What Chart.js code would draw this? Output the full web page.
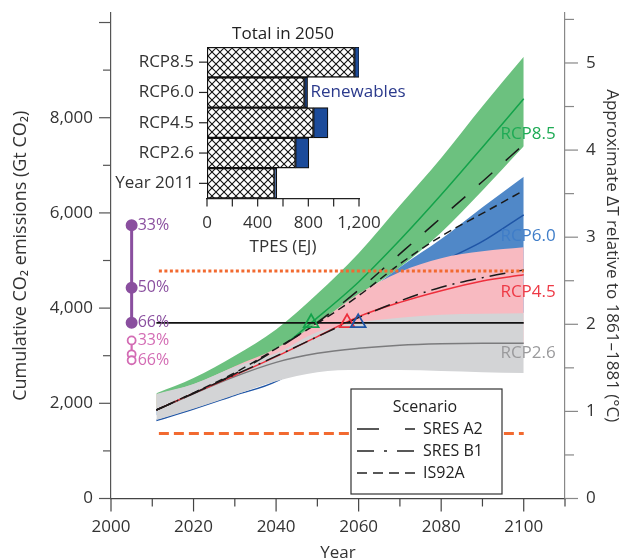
<!DOCTYPE html>
<html>
<head>
<meta charset="utf-8">
<script src="https://cdn.jsdelivr.net/npm/chart.js@4"></script>
<style>
  html, body { margin: 0; padding: 0; background: #fff; }
  #wrap { position: relative; width: 628px; height: 560px; overflow: hidden; }
  #main { position: absolute; left: 0; top: 0; }
  #inset { position: absolute; left: 100px; top: 20px; }
</style>
</head>
<body>
<div id="wrap">
  <canvas id="main" width="628" height="560"></canvas>
  <canvas id="inset" width="366" height="245"></canvas>
</div>
<script>
// cumulative CO2 emissions since 1870, Gt CO2
const years = [2011, 2020, 2030, 2040, 2050, 2060, 2070, 2080, 2090, 2100];

const rcp85Upper  = [2210, 2530, 3000, 3550, 4300, 5155, 6155, 7155, 8240, 9280];
const rcp85Median = [1860, 2220, 2650, 3100, 3800, 4550, 5430, 6380, 7380, 8400];
const rcp85Lower  = [1850, 2150, 2500, 2950, 3500, 4250, 4860, 5590, 6470, 7400];

const rcp60Upper  = [1900, 2200, 2550, 2950, 3450, 4200, 4860, 5450, 6120, 6760];
const rcp60Median = [1640, 1880, 2170, 2460, 3050, 3720, 4320, 4950, 5400, 5960];
const rcp60Lower  = [1750, 2000, 2300, 2600, 2850, 3050, 3300, 3500, 3700, 3900];

const rcp45Upper  = [2190, 2400, 2780, 3150, 3680, 4300, 4760, 5050, 5195, 5280];
const rcp45Median = [1860, 2210, 2590, 2980, 3400, 3820, 4120, 4365, 4570, 4700];
const rcp45Lower  = [1850, 2100, 2400, 2700, 2900, 3000, 3100, 3150, 3200, 3250];

const rcp26Upper  = [2198, 2406, 2770, 3050, 3500, 3700, 3800, 3860, 3880, 3890];
const rcp26Median = [1860, 2200, 2560, 2860, 3050, 3155, 3220, 3250, 3260, 3260];
const rcp26Lower  = [1650, 1885, 2175, 2465, 2655, 2700, 2700, 2680, 2655, 2635];

const sresA2 = [1860, 2210, 2620, 3130, 3700, 4380, 5140, 5900, 6660, 7440];
const sresB1 = [1860, 2210, 2600, 2990, 3400, 3800, 4150, 4440, 4640, 4800];
const is92a  = [1860, 2220, 2640, 3150, 3680, 4260, 4930, 5510, 5990, 6470];

// 2 degC threshold and the years each RCP median crosses it (8.5, 4.5, 6.0)
const twoDegree = 3690;
const crossYears = [2048.5, 2057.2, 2059.9];
const lineSpan = [2011, 2100];

const quotaHigh = 4780;   // dotted orange
const quotaLow = 1364;    // dashed orange
const quotaSpan = [2011.6, 2100];

// budget probabilities shown at 2005
const budgetYear = 2005;
const budgetAll = [5740, 4430, 3690];
const budgetAllPct = ['33%', '50%', '66%'];
const budgetCO2 = [3320, 3030, 2905];
const budgetCO2Pct = ['33%', '', '66%'];

const gtPerDegree = 1830;

// axis tick values
const yearTicks = [2000, 2020, 2040, 2060, 2080, 2100];
const gtTicks = [0, 2000, 4000, 6000, 8000];
const degTicks = [0, 1, 2, 3, 4, 5];
const tpesTicks = [0, 400, 800, 1200];

// inset: total primary energy supply in 2050, EJ
const insetCats = ['RCP8.5', 'RCP6.0', 'RCP4.5', 'RCP2.6', 'Year 2011'];
const insetOther = [1165, 770, 841, 699, 533];
const insetRenew = [38, 24, 114, 105, 18];

const FONT = "'Open Sans', 'DejaVu Sans', sans-serif";
const TXT = '#333';
Chart.defaults.font.family = FONT;
Chart.defaults.color = TXT;

const pts = (vals) => vals.map((v, i) => ({ x: years[i], y: v }));
const flat = (v, span) => span.map(x => ({ x, y: v }));
const withComma = v => String(v).replace(/\B(?=(\d{3})+(?!\d))/g, ',');

const band = (vals, color, order, fill) => ({
  data: pts(vals),
  borderColor: 'rgba(0,0,0,0)',
  borderWidth: 1,
  backgroundColor: color,
  fill: fill ? '+1' : false,
  order
});
const line = (data, color, order, extra) => Object.assign({
  data, borderColor: color, borderWidth: 1.5, fill: false, order
}, extra || {});

const GREEN = '#6cc17f', GREEN_L = '#13a24a';
const BLUE = '#5088c8', BLUE_L = '#1f55a6';
const PINK = '#f8bac1', RED_L = '#ee2f3c';
const GRAY = '#d3d4d6', GRAY_L = '#7b7b7d';
const ORANGE = '#f26a30';
const PURPLE = '#8a4f9f', MAGENTA = '#d36cb4';

// keep the plot box fixed: no extra room for overhanging end labels
const noPad = s => { s.paddingTop = 0; s.paddingBottom = 0; s.paddingLeft = 0; s.paddingRight = 0; };
const setTicks = list => s => { s.ticks = list.map(value => ({ value })); };

// tick marks drawn by hand so major and minor ticks can differ in length
const axisTicks = {
  id: 'axisTicks',
  afterDraw(chart) {
    const { ctx, chartArea: a, scales: { x, y, y2 } } = chart;
    ctx.save();
    ctx.lineWidth = 1.2;
    const seg = (x0, y0, x1, y1) => { ctx.beginPath(); ctx.moveTo(x0, y0); ctx.lineTo(x1, y1); ctx.stroke(); };
    ctx.strokeStyle = '#444';
    for (let v = 2000; v <= 2110; v += 10) {
      const p = x.getPixelForValue(v);
      seg(p, a.bottom, p, a.bottom + (v % 20 === 0 ? 13 : 8));
    }
    ctx.strokeStyle = '#555';
    for (let v = 0; v <= 10000; v += 1000) {
      const p = y.getPixelForValue(v);
      seg(a.left, p, a.left - (v % 2000 === 0 ? 12 : 8), p);
    }
    ctx.strokeStyle = '#888';
    for (let v = 0; v <= 5.5; v += 0.5) {
      const p = y2.getPixelForValue(v);
      seg(a.right, p, a.right + (v % 1 === 0 ? 13 : 9), p);
    }
    ctx.restore();
  }
};

// RCP names, probability labels and scenario key
const annotations = {
  id: 'annotations',
  afterDraw(chart) {
    const { ctx, chartArea: a, scales: { x, y } } = chart;
    ctx.save();
    ctx.textBaseline = 'middle';

    ctx.font = '17px ' + FONT;
    ctx.textAlign = 'right';
    const rx = x.getPixelForValue(2100) + 32;
    [['RCP8.5', 7650, '#1eab55'], ['RCP6.0', 5510, '#3f7dc8'],
     ['RCP4.5', 4340, '#ee3a46'], ['RCP2.6', 3050, '#9a9a9c']].forEach(([t, v, c]) => {
      ctx.fillStyle = c;
      ctx.fillText(t, rx, y.getPixelForValue(v));
    });

    ctx.font = '16px ' + FONT;
    ctx.textAlign = 'left';
    const bx = x.getPixelForValue(budgetYear) + 6;
    ctx.fillStyle = PURPLE;
    budgetAll.forEach((v, i) => ctx.fillText(budgetAllPct[i], bx, y.getPixelForValue(v)));
    ctx.fillStyle = MAGENTA;
    budgetCO2.forEach((v, i) => { if (budgetCO2Pct[i]) ctx.fillText(budgetCO2Pct[i], bx, y.getPixelForValue(v)); });

    // scenario key
    const L = 351, R = a.right - 63, T = 389, B = a.bottom - 4.5;
    ctx.fillStyle = '#fff';
    ctx.fillRect(L, T, R - L, B - T);
    ctx.strokeStyle = '#333';
    ctx.lineWidth = 1.2;
    ctx.strokeRect(L, T, R - L, B - T);
    ctx.fillStyle = '#222';
    ctx.textAlign = 'center';
    ctx.fillText('Scenario', 425, 407);
    ctx.textAlign = 'left';
    const rows = [['SRES A2', [22, 26], 429], ['SRES B1', [17, 10, 3, 10], 451], ['IS92A', [10, 6], 473]];
    ctx.lineWidth = 1.5;
    ctx.strokeStyle = '#222';
    rows.forEach(([t, dash, ry]) => {
      ctx.setLineDash(dash);
      ctx.beginPath(); ctx.moveTo(357, ry); ctx.lineTo(415, ry); ctx.stroke();
      ctx.fillText(t, 423, ry);
    });
    ctx.restore();
  }
};

new Chart(document.getElementById('main'), {
  type: 'line',
  data: {
    datasets: [
      band(rcp85Upper, GREEN, 12, true),
      band(rcp85Lower, GREEN, 12, false),
      line(pts(rcp85Median), GREEN_L, 11),
      band(rcp60Upper, BLUE, 10, true),
      band(rcp60Lower, BLUE, 10, false),
      line(pts(rcp60Median), BLUE_L, 9),
      band(rcp45Upper, PINK, 8, true),
      band(rcp45Lower, PINK, 8, false),
      band(rcp26Upper, GRAY, 7, true),
      band(rcp26Lower, GRAY, 7, false),
      line(pts(rcp26Median), GRAY_L, 6),
      line(pts(rcp45Median), RED_L, 5),
      line(pts(sresA2), '#1a1a1a', 4, { borderDash: [18, 18] }),
      line(pts(sresB1), '#1a1a1a', 4, { borderDash: [16, 6, 2, 6] }),
      line(pts(is92a), '#1a1a1a', 4, { borderDash: [8, 5] }),
      line(flat(twoDegree, lineSpan), '#111', 3, { borderWidth: 1.8 }),
      line(flat(quotaHigh, quotaSpan), ORANGE, 3, { borderWidth: 3, borderDash: [3, 2.5] }),
      line(flat(quotaLow, quotaSpan), ORANGE, 3, { borderWidth: 3, borderDash: [10, 5] }),
      {
        data: crossYears.map(v => ({ x: v, y: twoDegree })),
        showLine: false, order: 2,
        pointStyle: 'triangle', pointRadius: 8.5, pointBorderWidth: 1.8,
        pointBackgroundColor: 'rgba(0,0,0,0)',
        pointBorderColor: [GREEN_L, RED_L, BLUE_L]
      },
      {
        data: budgetAll.map(v => ({ x: budgetYear, y: v })),
        borderColor: PURPLE, borderWidth: 3, order: 1,
        pointRadius: 4.5, pointBackgroundColor: PURPLE, pointBorderColor: PURPLE
      },
      {
        data: budgetCO2.map(v => ({ x: budgetYear, y: v })),
        borderColor: MAGENTA, borderWidth: 2.2, order: 1,
        pointRadius: 4, pointBorderWidth: 1.8,
        pointBackgroundColor: '#fff', pointBorderColor: MAGENTA
      }
    ]
  },
  options: {
    responsive: false,
    animation: false,
    layout: { padding: { top: 13, left: 0, right: 0, bottom: 0 } },
    elements: {
      point: { radius: 0 },
      line: { cubicInterpolationMode: 'monotone' }
    },
    plugins: { legend: { display: false }, tooltip: { enabled: false } },
    scales: {
      x: {
        type: 'linear', min: 2000, max: 2110,
        afterBuildTicks: setTicks(yearTicks),
        afterFit: s => { s.height = 61.5; noPad(s); },
        grid: { display: false, drawTicks: false },
        border: { display: true, color: '#444', width: 1.2 },
        ticks: { padding: 18, maxRotation: 0, autoSkip: false, font: { size: 17 }, color: TXT, callback: v => String(v) },
        title: { display: true, text: 'Year', font: { size: 17 }, color: TXT, padding: { top: 0, bottom: -3 } }
      },
      y: {
        position: 'left', min: 0, max: 10200,
        afterBuildTicks: setTicks(gtTicks),
        afterFit: s => { s.width = 111; noPad(s); },
        grid: { display: false, drawTicks: false },
        border: { display: true, color: '#555', width: 1.2 },
        ticks: { padding: 18, autoSkip: false, font: { size: 17 }, color: TXT, callback: v => withComma(v) },
        title: { display: true, text: 'Cumulative CO\u2082 emissions (Gt CO\u2082)', font: { size: 18 }, color: TXT, padding: { top: 10, bottom: 0 } }
      },
      y2: {
        position: 'right', min: 0, max: 10200 / gtPerDegree,
        afterBuildTicks: setTicks(degTicks),
        afterFit: s => { s.width = 63; noPad(s); },
        grid: { display: false, drawTicks: false },
        border: { display: true, color: '#888', width: 1.2 },
        ticks: { padding: 21, autoSkip: false, font: { size: 17 }, color: TXT, callback: v => String(v) },
        title: { display: true, text: 'Approximate \u0394T relative to 1861\u20131881 (\u00B0C)', font: { size: 17 }, color: TXT, padding: { top: 6, bottom: 0 } }
      }
    }
  },
  plugins: [axisTicks, annotations]
});

// crosshatch fill for the non-renewable share
function crossHatch(ctx) {
  const c = document.createElement('canvas');
  c.width = c.height = 8;
  const g = c.getContext('2d');
  g.fillStyle = '#fff';
  g.fillRect(0, 0, 8, 8);
  g.strokeStyle = '#111';
  g.lineWidth = 1.1;
  g.beginPath();
  g.moveTo(0, 0); g.lineTo(8, 8);
  g.moveTo(8, 0); g.lineTo(0, 8);
  g.stroke();
  return ctx.createPattern(c, 'repeat');
}

// inset ticks, title and the renewables note
const insetDecor = {
  id: 'insetDecor',
  afterDraw(chart) {
    const { ctx, chartArea: a, scales: { x, y } } = chart;
    ctx.save();
    ctx.strokeStyle = '#222';
    ctx.lineWidth = 1.2;
    for (let v = 0; v <= 1200; v += 200) {
      const p = x.getPixelForValue(v);
      ctx.beginPath(); ctx.moveTo(p, a.bottom); ctx.lineTo(p, a.bottom + 8); ctx.stroke();
    }
    insetCats.forEach((c, i) => {
      const p = y.getPixelForValue(i);
      ctx.beginPath(); ctx.moveTo(a.left, p); ctx.lineTo(a.left - 8, p); ctx.stroke();
    });
    ctx.font = '17px ' + FONT;
    ctx.textBaseline = 'middle';
    ctx.fillStyle = '#222';
    ctx.textAlign = 'center';
    ctx.fillText('Total in 2050', (a.left + a.right) / 2, a.top - 13);
    ctx.fillStyle = '#2b3a8c';
    ctx.textAlign = 'left';
    ctx.fillText('Renewables', x.getPixelForValue(insetOther[1] + insetRenew[1]) + 3, y.getPixelForValue(1));
    ctx.restore();
  }
};

const insetCanvas = document.getElementById('inset');
new Chart(insetCanvas, {
  type: 'bar',
  data: {
    labels: insetCats,
    datasets: [
      {
        data: insetOther,
        backgroundColor: crossHatch(insetCanvas.getContext('2d')),
        borderColor: '#111', borderWidth: 1.5, borderSkipped: false,
        barPercentage: 1, categoryPercentage: 1
      },
      {
        data: insetRenew,
        backgroundColor: '#1c4b9a',
        borderColor: '#111', borderWidth: 1.2, borderSkipped: false,
        barPercentage: 1, categoryPercentage: 1
      }
    ]
  },
  options: {
    indexAxis: 'y',
    responsive: false,
    animation: false,
    layout: { padding: { top: 27, right: 107, bottom: 0, left: 0 } },
    plugins: { legend: { display: false }, tooltip: { enabled: false } },
    scales: {
      x: {
        stacked: true, min: 0, max: 1200,
        afterBuildTicks: setTicks(tpesTicks),
        afterFit: s => { s.height = 66.5; noPad(s); },
        grid: { display: false, drawTicks: false },
        border: { display: true, color: '#222', width: 1.2 },
        ticks: { padding: 14, font: { size: 17 }, color: TXT, maxRotation: 0, autoSkip: false, callback: v => withComma(v) },
        title: { display: true, text: 'TPES (EJ)', font: { size: 17 }, color: TXT, padding: { top: 0, bottom: 8 } }
      },
      y: {
        stacked: true,
        afterFit: s => { s.width = 107; noPad(s); },
        grid: { display: false, drawTicks: false },
        border: { display: false },
        ticks: { padding: 13, autoSkip: false, font: { size: 17 }, color: TXT }
      }
    }
  },
  plugins: [insetDecor]
});
</script>
</body>
</html>
